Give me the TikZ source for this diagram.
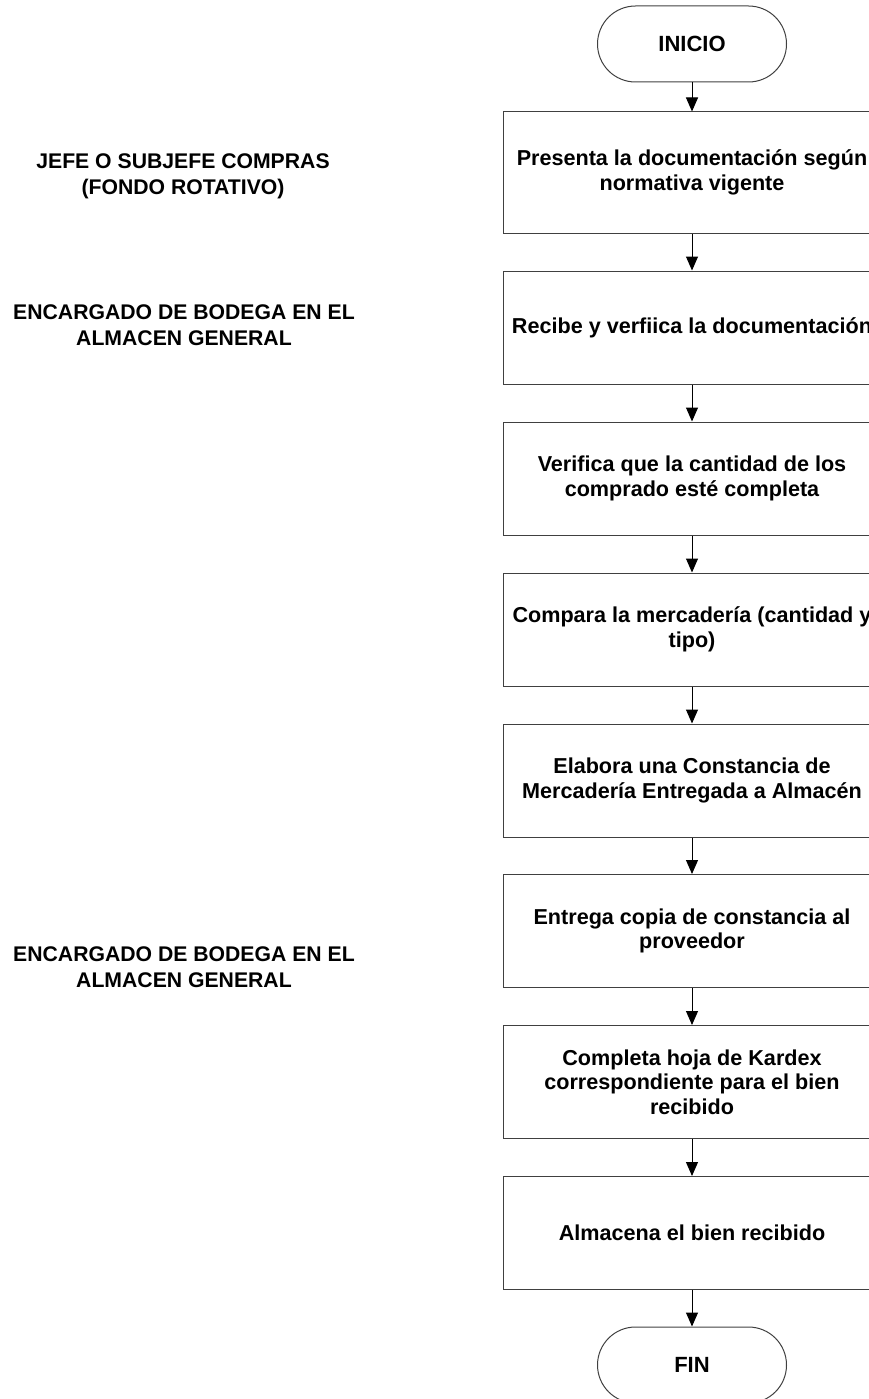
\documentclass[tikz,border=0pt]{standalone}
\usepackage{fontspec}
\setmainfont{Liberation Sans}
\usetikzlibrary{arrows.meta}

\begin{document}
\begin{tikzpicture}[x=1pt,y=-1pt,
  paso/.style={draw=black!75,line width=1pt,minimum width=378pt,minimum height=113pt,
    align=center,inner sep=0pt,font=\fontsize{21.6}{24.7}\selectfont\bfseries},
  terminal/.style={draw=black!75,line width=1pt,rounded corners=38pt,minimum width=189pt,
    minimum height=76pt,font=\fontsize{22}{24.7}\selectfont\bfseries},
  rol/.style={align=center,font=\fontsize{21.2}{26}\selectfont\bfseries},
  flecha/.style={line width=1pt,-{Triangle[width=12pt,length=14pt]}}]
\useasboundingbox (0,0) rectangle (868,1399);

\node[terminal] (inicio) at (692,44) {INICIO};
\node[paso,minimum height=121pt] (presenta) at (692,172.5)
 {Presenta la documentación según\\normativa vigente};
\node[paso] (recibe) at (692,327.5) {Recibe y verfiica la documentación};
\node[paso] (verifica) at (692,478.5)
 {Verifica que la cantidad de los\\comprado esté completa};
\node[paso] (compara) at (692,629.5)
 {Compara la mercadería (cantidad y\\tipo)};
\node[paso] (elabora) at (692,780.5)
 {Elabora una Constancia de\\Mercadería Entregada a Almacén};
\node[paso] (entrega) at (692,931)
 {Entrega copia de constancia al\\proveedor};
\node[paso] (completa) at (692,1082)
 {Completa hoja de Kardex\\correspondiente para el bien\\recibido};
\node[paso] (almacena) at (692,1233) {Almacena el bien recibido};
\node[terminal] (fin) at (692,1365) {FIN};

\draw[flecha] (inicio) to (presenta);
\draw[flecha] (presenta) to (recibe);
\draw[flecha] (recibe) to (verifica);
\draw[flecha] (verifica) to (compara);
\draw[flecha] (compara) to (elabora);
\draw[flecha] (elabora) to (entrega);
\draw[flecha] (entrega) to (completa);
\draw[flecha] (completa) to (almacena);
\draw[flecha] (almacena) to (fin);

\node[rol] (jefe) at (183,176) {JEFE O SUBJEFE COMPRAS\\(FONDO ROTATIVO)};
\node[rol] (bodega) at (184,325) {ENCARGADO DE BODEGA EN EL\\ALMACEN GENERAL};
\node[rol] (bodegados) at (184,967) {ENCARGADO DE BODEGA EN EL\\ALMACEN GENERAL};
\end{tikzpicture}
\end{document}
